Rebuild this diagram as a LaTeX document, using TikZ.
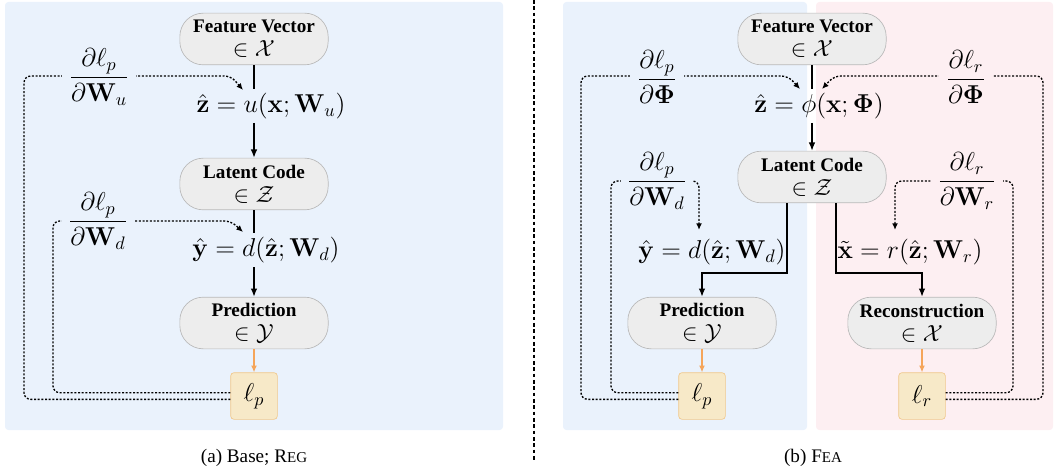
\RequirePackage{fix-cm}
\documentclass[tikz,border=0pt]{standalone}
\usepackage{amsmath, amssymb}
\usepackage[no-math]{fontspec}
\setmainfont{Liberation Serif}
\usepackage{tikz}
\usetikzlibrary{arrows.meta, positioning, calc}
\definecolor{bgblue}{RGB}{234,242,252}
\definecolor{bgpink}{RGB}{253,239,242}
\definecolor{boxgray}{RGB}{237,237,237}
\definecolor{linegray}{RGB}{185,185,185}
\definecolor{lossfill}{RGB}{247,233,200}
\definecolor{lossline}{RGB}{240,200,140}
\definecolor{lossarrow}{RGB}{245,165,90}
\tikzset{
  space/.style={draw=linegray, fill=boxgray, rounded corners=14pt, minimum width=89pt, minimum height=31pt, align=center, inner sep=1pt},
  loss/.style={draw=lossline, fill=lossfill, rounded corners=2pt, minimum size=28pt, inner sep=0pt, font=\fontsize{15.5}{18}\selectfont},
  eqn/.style={minimum height=20pt, inner sep=1pt, font=\fontsize{15.5}{18}\selectfont},
  grad/.style={inner xsep=4pt, inner ysep=1pt, font=\fontsize{15.5}{18}\selectfont},
  fwd/.style={-{Latex[length=5pt,width=4pt]}, line width=0.9pt},
  link/.style={line width=0.9pt},
  lossflow/.style={-{Latex[length=4pt,width=3.5pt]}, draw=lossarrow, line width=0.7pt},
  back/.style={-{Latex[length=4pt,width=3.5pt]}, dash pattern=on 1.2pt off 1pt, line width=0.8pt, rounded corners=4pt},
  caption/.style={font=\fontsize{11.5}{14}\selectfont},
}
\newcommand{\spacetxt}[2]{{\fontsize{11.5}{13}\selectfont\bfseries #1}\\[2.4pt]{\fontsize{14}{15}\selectfont$\in\mathcal{#2}$}}

\begin{document}
\begin{tikzpicture}[x=0.6pt, y=-0.6pt]
  \useasboundingbox (0,0) rectangle (1055,469);

  % panel backgrounds
  \fill[bgblue, rounded corners=2pt] (5,2) rectangle (503,430);
  \fill[bgblue, rounded corners=2pt] (563,2) rectangle (807,430);
  \fill[bgpink, rounded corners=2pt] (816,2) rectangle (1053,430);
  \draw[line width=1.3pt, dash pattern=on 2.2pt off 1.6pt] (534,0) -- (534,462);

  % (a) Base; Reg
  \node[space] (fva) at (254,39) {\spacetxt{Feature Vector}{X}};
  \node[eqn] (zeqa) at (271,106) {$\hat{\mathbf{z}} = u(\mathbf{x};\mathbf{W}_u)$};
  \node[space] (lca) at (254,184) {\spacetxt{Latent Code}{Z}};
  \node[eqn] (yeqa) at (266,250) {$\hat{\mathbf{y}} = d(\hat{\mathbf{z}};\mathbf{W}_d)$};
  \node[space] (preda) at (254,323) {\spacetxt{Prediction}{Y}};
  \node[loss] (lossa) at (254,396) {$\ell_p$};
  \coordinate (utip) at (243,90);
  \coordinate (dtip) at (243,232);

  \draw[link] (fva) -- (fva |- zeqa.north);
  \draw[fwd] (zeqa.south -| lca) -- (lca);
  \draw[link] (lca) -- (lca |- yeqa.north);
  \draw[fwd] (yeqa.south -| preda) -- (preda);
  \draw[lossflow] (preda) -- (lossa);

  \draw[back] ([yshift=-2pt]lossa.west) -| (24,76) -- (231,76) -- (utip);
  \draw[back] ([yshift=2pt]lossa.west) -| (53,221) -- (231,221) -- (dtip);
  \node[grad, fill=bgblue] (gua) at (99,77) {$\dfrac{\partial\ell_p}{\partial\mathbf{W}_u}$};
  \node[grad, fill=bgblue] (gda) at (98,221) {$\dfrac{\partial\ell_p}{\partial\mathbf{W}_d}$};

  % (b) Fea
  \node[space] (fvb) at (812,39) {\spacetxt{Feature Vector}{X}};
  \node[eqn] (zeqb) at (819,106) {$\hat{\mathbf{z}} = \phi(\mathbf{x};\boldsymbol{\Phi})$};
  \node[space] (lcb) at (812,177) {\spacetxt{Latent Code}{Z}};
  \node[eqn] (yeqb) at (712,252) {$\hat{\mathbf{y}} = d(\hat{\mathbf{z}};\mathbf{W}_d)$};
  \node[eqn] (xeqb) at (910,252) {$\tilde{\mathbf{x}} = r(\hat{\mathbf{z}};\mathbf{W}_r)$};
  \node[space] (predb) at (702,323) {\spacetxt{Prediction}{Y}};
  \node[space] (recb) at (922,323) {\spacetxt{Reconstruction}{X}};
  \node[loss] (lossp) at (702,396) {$\ell_p$};
  \node[loss] (lossr) at (922,396) {$\ell_r$};
  \coordinate (ptip) at (800,89);
  \coordinate (rtip) at (822,89);

  \draw[link] (fvb) -- (fvb |- zeqb.north);
  \draw[fwd] (zeqb.south -| lcb) -- (lcb);
  \draw[fwd] ([xshift=-15pt]lcb.south) -- ++(0,70) -| (predb);
  \draw[fwd] ([xshift=14.5pt]lcb.south) -- ++(0,70) -| (recb);
  \draw[lossflow] (predb) -- (lossp);
  \draw[lossflow] (recb) -- (lossr);

  \draw[back] ([yshift=-2pt]lossp.west) -| (581,76) -- (788,76) -- (ptip);
  \draw[back] ([yshift=2pt]lossp.west) -| (611,181) -| (699,230);
  \draw[back] ([yshift=-2pt]lossr.east) -| (1043,76) -- (834,76) -- (rtip);
  \draw[back] ([yshift=2pt]lossr.east) -| (1013,181) -| (895,230);
  \node[grad, fill=bgblue] (gpb) at (657,77) {$\dfrac{\partial\ell_p}{\partial\boldsymbol{\Phi}}$};
  \node[grad, fill=bgblue] (gdb) at (657,181) {$\dfrac{\partial\ell_p}{\partial\mathbf{W}_d}$};
  \node[grad, fill=bgpink] (grb) at (966,77) {$\dfrac{\partial\ell_r}{\partial\boldsymbol{\Phi}}$};
  \node[grad, fill=bgpink] (gwb) at (967,181) {$\dfrac{\partial\ell_r}{\partial\mathbf{W}_r}$};

  % captions
  \node[caption] (capa) at (254,458) {(a) Base; R{\fontsize{9}{11}\selectfont EG}};
  \node[caption] (capb) at (813,458) {(b) F{\fontsize{9}{11}\selectfont EA}};
\end{tikzpicture}
\end{document}
